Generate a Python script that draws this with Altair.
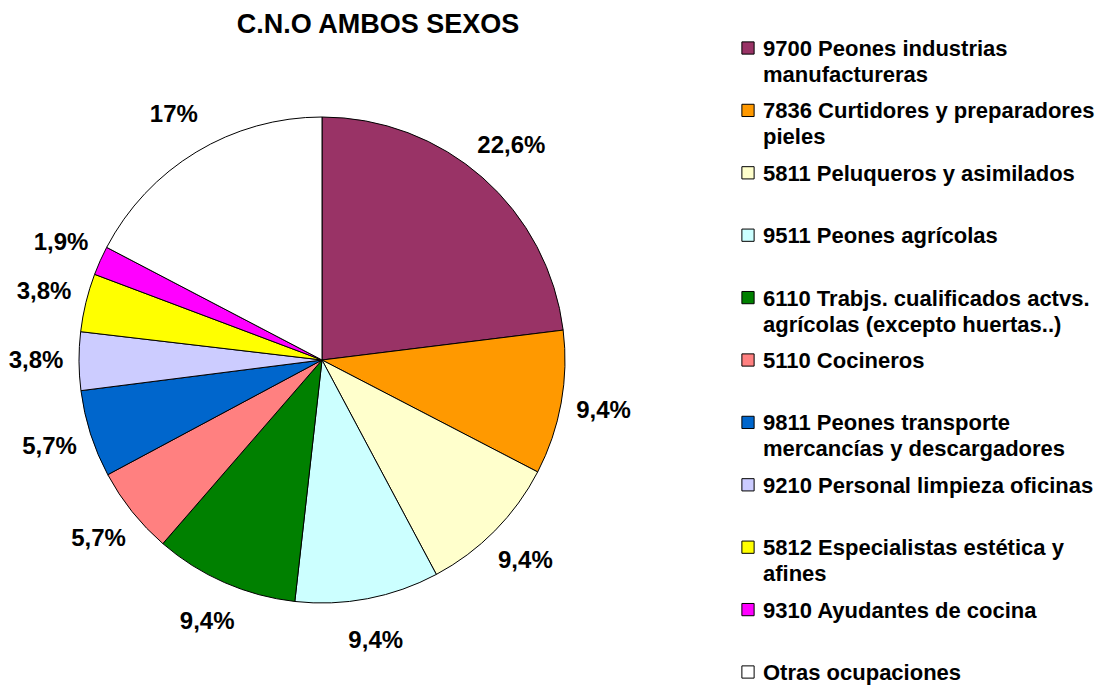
import altair as alt
import pandas as pd

categories = [
    "9700 Peones industrias manufactureras",
    "7836 Curtidores y preparadores pieles",
    "5811 Peluqueros y asimilados",
    "9511 Peones agrícolas",
    "6110 Trabjs. cualificados actvs. agrícolas (excepto huertas..)",
    "5110 Cocineros",
    "9811 Peones transporte mercancías y descargadores",
    "9210 Personal limpieza oficinas",
    "5812 Especialistas estética y afines",
    "9310 Ayudantes de cocina",
    "Otras ocupaciones",
]
legend_labels = [
    "9700 Peones industrias\nmanufactureras",
    "7836 Curtidores y preparadores\npieles",
    "5811 Peluqueros y asimilados",
    "9511 Peones agrícolas",
    "6110 Trabjs. cualificados actvs.\nagrícolas (excepto huertas..)",
    "5110 Cocineros",
    "9811 Peones transporte\nmercancías y descargadores",
    "9210 Personal limpieza oficinas",
    "5812 Especialistas estética y\nafines",
    "9310 Ayudantes de cocina",
    "Otras ocupaciones",
]
values = [22.6, 9.4, 9.4, 9.4, 9.4, 5.7, 5.7, 3.8, 3.8, 1.9, 17]
pct_labels = ["22,6%", "9,4%", "9,4%", "9,4%", "9,4%", "5,7%", "5,7%", "3,8%", "3,8%", "1,9%", "17%"]
colors = ["#993366", "#FF9900", "#FFFFCC", "#CCFFFF", "#008000", "#FF8080",
          "#0066CC", "#CCCCFF", "#FFFF00", "#FF00FF", "#FFFFFF"]
title_text = "C.N.O AMBOS SEXOS"

df = pd.DataFrame({
    "idx": list(range(len(categories))),
    "cat": categories,
    "legend": legend_labels,
    "value": values,
    "pct": pct_labels,
})

FONT = "Liberation Sans"
CX, CY, R = 314, 352, 243

color = alt.Color("cat:N", scale=alt.Scale(domain=categories, range=colors), legend=None)
theta = alt.Theta("value:Q", stack=True)
order = alt.Order("idx:Q", sort="ascending")

base = alt.Chart(df)

arcs = base.mark_arc(stroke="black", strokeWidth=1).encode(
    theta=theta, color=color, order=order,
    x=alt.value(CX), y=alt.value(CY), radius=alt.value(R),
)

labels = base.mark_text(font=FONT, fontSize=24, fontWeight="bold", color="black",
                        align="center", baseline="middle").encode(
    theta=theta, order=order, text="pct:N",
    x=alt.value(CX), y=alt.value(CY), radius=alt.value(286),
)

ypos = alt.Y("idx:O", scale=alt.Scale(type="point", range=[40, 664], padding=0), axis=None)

leg_sym = base.mark_square(size=150, stroke="black", strokeWidth=1, opacity=1).encode(
    y=ypos, x=alt.value(740), color=color,
)
leg_txt = base.mark_text(font=FONT, fontSize=22, fontWeight="bold", color="black",
                         align="left", baseline="alphabetic", dy=8, lineBreak="\n",
                         lineHeight=26).encode(
    y=ypos, x=alt.value(755), text="legend:N",
)

title = alt.Chart(alt.Data(values=[{"t": title_text}])).mark_text(
    font=FONT, fontSize=27, fontWeight="bold", color="black",
    align="center", baseline="middle").encode(
    text="t:N", x=alt.value(370), y=alt.value(17),
)

chart = alt.layer(arcs, labels, leg_sym, leg_txt, title).properties(
    width=1093, height=677, autosize=alt.AutoSizeParams(type="none"), padding=0,
).configure_view(stroke=None)

chart.save("out.html", embed_options={"renderer": "svg", "actions": False})
